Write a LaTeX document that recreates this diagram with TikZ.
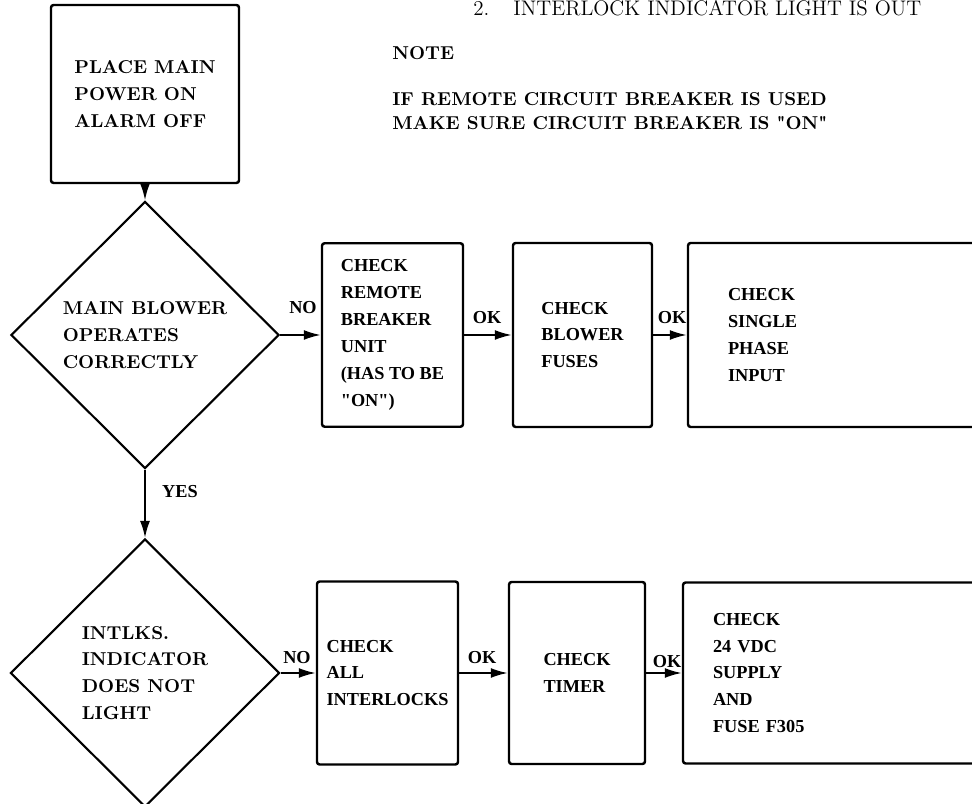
\documentclass[tikz,border=0pt]{standalone}
\usepackage{fontspec}
\newfontfamily\boxfont{Liberation Serif}
\usetikzlibrary{shapes.geometric,arrows.meta}

\begin{document}
\begin{tikzpicture}[
  every node/.style={font=\fontsize{10.6}{15.3}\selectfont\bfseries},
  bx/.style={draw, line width=1.4pt, rounded corners=1.5pt, align=left, inner sep=0pt,
    font=\boxfont\fontsize{10.4}{15.3}\selectfont\bfseries},
  dm/.style={draw, diamond, line width=1.2pt, align=left, inner sep=0pt, minimum width=5.36cm, minimum height=5.34cm},
  lb/.style={inner sep=1pt, font=\boxfont\fontsize{10.4}{12}\selectfont\bfseries},
  ar/.style={-{Latex[length=3.4mm,width=2mm]}, line width=1.1pt}]

\useasboundingbox (0,0) rectangle (19.44,16.06);

% ---------------- notes at the top ----------------
\node[anchor=base west, inner sep=0pt, font=\fontsize{12}{14}\selectfont] (step2) at (9.46, 15.75)
  {2.\hspace*{0.48cm}INTERLOCK INDICATOR LIGHT IS OUT};
\node[anchor=base west, inner sep=0pt] (note) at (7.84, 14.86) {NOTE};
\node[anchor=base west, inner sep=0pt, align=left, font=\fontsize{10.6}{14.2}\selectfont\bfseries] (notetxt) at (7.84, 13.46)
  {IF REMOTE CIRCUIT BREAKER IS USED\\MAKE SURE CIRCUIT BREAKER IS \textquotedbl ON\textquotedbl};

% ---------------- left column ----------------
\node[bx, minimum width=3.76cm, minimum height=3.56cm, font=\fontsize{10.6}{15.3}\selectfont\bfseries] (b0) at (2.9, 14.18)
  {PLACE MAIN\\POWER ON\\ALARM OFF};
\node[dm] (d1) at (2.9, 9.36) {MAIN BLOWER\\OPERATES\\CORRECTLY};
\node[dm, minimum width=5.38cm, minimum height=5.36cm] (d2) at (2.9, 2.6) {INTLKS.\\INDICATOR\\DOES NOT\\LIGHT};

% ---------------- blower row ----------------
\node[bx, minimum width=2.82cm, minimum height=3.67cm] (b1) at (7.85, 9.36)
  {CHECK\\REMOTE\\BREAKER\\UNIT\\(HAS TO BE\\\textquotedbl ON\textquotedbl)};
\node[bx, minimum width=2.78cm, minimum height=3.68cm] (b2) at (11.65, 9.36) {CHECK\\BLOWER\\FUSES};
\node[bx, minimum width=6.2cm, minimum height=3.68cm, text width=4.6cm] (b3) at (16.86, 9.36) {CHECK\\SINGLE\\PHASE\\INPUT};

% ---------------- interlock row ----------------
\node[bx, minimum width=2.82cm, minimum height=3.66cm] (b4) at (7.75, 2.6) {CHECK\\ALL\\INTERLOCKS};
\node[bx, minimum width=2.72cm, minimum height=3.64cm] (b5) at (11.54, 2.6) {CHECK\\TIMER};
\node[bx, minimum width=6.2cm, minimum height=3.62cm, text width=5.0cm] (b6) at (16.76, 2.6) {CHECK\\24 VDC\\SUPPLY\\AND\\FUSE F305};

% ---------------- labels ----------------
\node[lb] (no1) at (6.06, 9.9) {NO};
\node[lb] (ok1) at (9.74, 9.7) {OK};
\node[lb] (ok2) at (13.44, 9.7) {OK};
\node[lb] (yes) at (3.6, 6.22) {YES};
\node[lb] (no2) at (5.94, 2.9) {NO};
\node[lb] (ok3) at (9.64, 2.9) {OK};
\node[lb] (ok4) at (13.34, 2.82) {OK};

% ---------------- arrows ----------------
\draw[ar] (b0) -- (d1);
\draw[ar] (d1) -- (d2);
\draw[ar] (d1) -- (b1);
\draw[ar] (b1) -- (b2);
\draw[ar] (b2) -- (b3);
\draw[ar] (d2) -- (b4);
\draw[ar] (b4) -- (b5);
\draw[ar] (b5) -- (b6);
\end{tikzpicture}
\end{document}
